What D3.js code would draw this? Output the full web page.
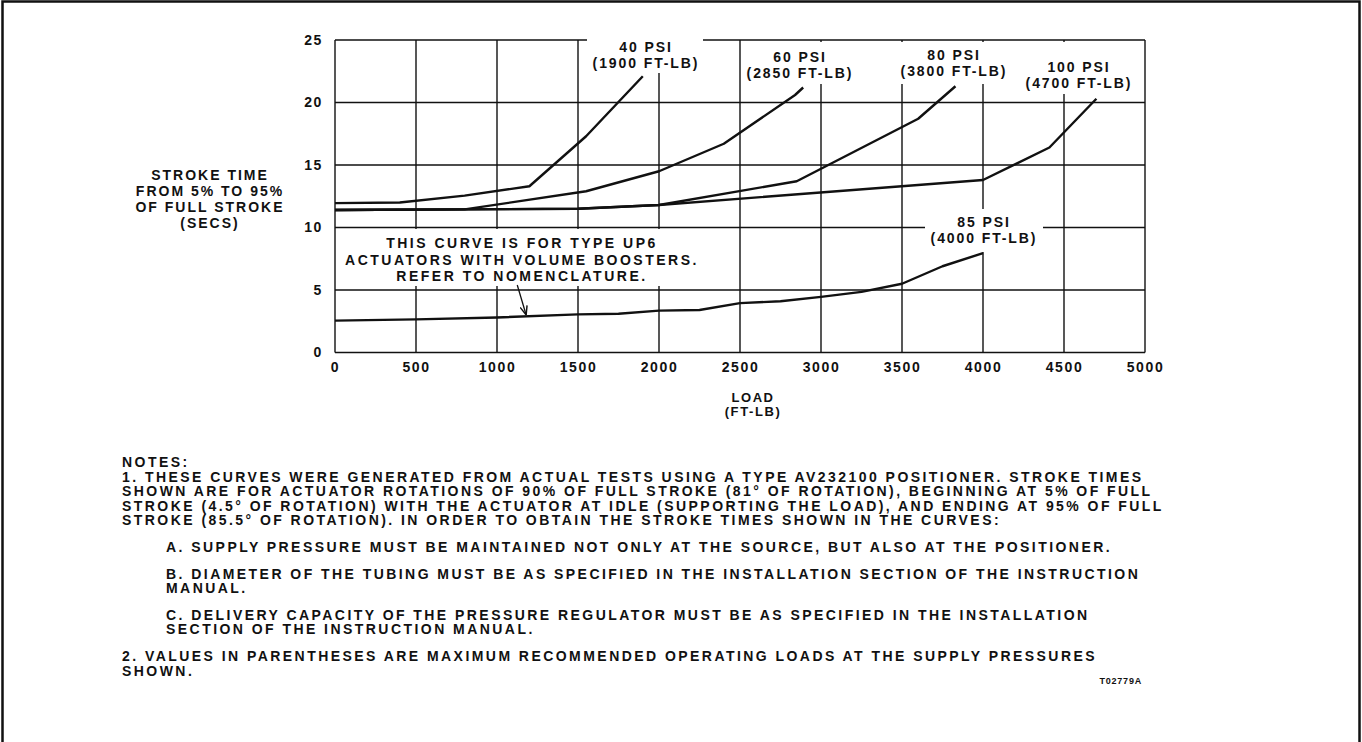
<!DOCTYPE html>
<html><head><meta charset="utf-8">
<script src="https://cdn.jsdelivr.net/npm/d3@7"></script>
<style>
body{margin:0;background:#fff}
svg text{font-family:"Liberation Sans",Arial,Helvetica,sans-serif;font-weight:bold;fill:#111}
</style></head>
<body><svg id="c" width="1362" height="742"></svg>
<script>
// ---- data ----
const xTicks = [0,500,1000,1500,2000,2500,3000,3500,4000,4500,5000];
const yTicks = [0,5,10,15,20,25];
const loads40  = [0,400,800,1200,1550,1900];
const time40   = [11.95,12.0,12.55,13.3,17.3,22.1];
const loads60  = [0,800,1550,2000,2400,2840,2890];
const time60   = [11.4,11.45,12.9,14.5,16.7,20.6,21.2];
const loads80  = [0,1500,2000,2850,3600,3830];
const time80   = [11.4,11.5,11.8,13.7,18.7,21.3];
const loads100 = [0,1500,2000,4000,4410,4700];
const time100  = [11.4,11.5,11.8,13.8,16.4,20.3];
const loads85  = [0,500,1000,1500,1750,2000,2250,2500,2750,3000,3250,3500,3750,4000];
const time85   = [2.55,2.65,2.8,3.05,3.1,3.35,3.4,3.95,4.1,4.45,4.85,5.5,6.9,7.95];
const seriesLabels = [
  ["40 PSI","(1900 FT-LB)"],["60 PSI","(2850 FT-LB)"],["80 PSI","(3800 FT-LB)"],
  ["100 PSI","(4700 FT-LB)"],["85 PSI","(4000 FT-LB)"]];
const yTitle = ["STROKE TIME","FROM 5% TO 95%","OF FULL STROKE","(SECS)"];
const xTitle = ["LOAD","(FT-LB)"];
const noteText = ["THIS CURVE IS FOR TYPE UP6","ACTUATORS WITH VOLUME BOOSTERS.","REFER TO NOMENCLATURE."];
const notes = [
 ["NOTES:",0,0],
 ["1. THESE CURVES WERE GENERATED FROM ACTUAL TESTS USING A TYPE AV232100 POSITIONER.  STROKE TIMES",0,1],
 ["SHOWN ARE FOR ACTUATOR ROTATIONS OF 90% OF FULL STROKE (81° OF ROTATION), BEGINNING AT 5% OF FULL",0,2],
 ["STROKE (4.5° OF ROTATION) WITH THE ACTUATOR AT IDLE (SUPPORTING THE LOAD), AND ENDING AT 95% OF FULL",0,3],
 ["STROKE (85.5° OF ROTATION). IN ORDER TO OBTAIN THE STROKE TIMES SHOWN IN THE CURVES:",0,4],
 ["A. SUPPLY PRESSURE MUST BE MAINTAINED NOT ONLY AT THE SOURCE, BUT ALSO AT THE POSITIONER.",1,5],
 ["B. DIAMETER OF THE TUBING MUST BE AS SPECIFIED IN THE INSTALLATION SECTION OF THE INSTRUCTION",1,6],
 ["MANUAL.",1,7],
 ["C. DELIVERY CAPACITY OF THE PRESSURE REGULATOR MUST BE AS SPECIFIED IN THE INSTALLATION",1,8],
 ["SECTION OF THE INSTRUCTION MANUAL.",1,9],
 ["2. VALUES IN PARENTHESES ARE MAXIMUM RECOMMENDED OPERATING LOADS AT THE SUPPLY PRESSURES",0,10],
 ["SHOWN.",0,11]];
const figId = "T02779A";

// ---- layout ----
const svg = d3.select("#c");
const L=335, R=1145, T=40, B=352.5;
const x = d3.scaleLinear().domain([0,5000]).range([L,R]);
const y = d3.scaleLinear().domain([0,25]).range([B,T]);
const ink = "#111";

// outer frame
svg.append("rect").attr("x",2.5).attr("y",1.5).attr("width",1357).attr("height",780)
  .attr("fill","none").attr("stroke",ink).attr("stroke-width",2.5);

// grid
const g = svg.append("g");
g.selectAll("line.v").data(xTicks).join("line").attr("class","v")
  .attr("x1",d=>x(d)).attr("x2",d=>x(d)).attr("y1",T).attr("y2",B)
  .attr("stroke",ink).attr("stroke-width",1.4);
g.selectAll("line.h").data(yTicks).join("line").attr("class","h")
  .attr("y1",d=>y(d)).attr("y2",d=>y(d)).attr("x1",L).attr("x2",R)
  .attr("stroke",ink).attr("stroke-width",1.4);

// axes (labels only)
const ax = svg.append("g").attr("transform",`translate(0,${B})`)
  .call(d3.axisBottom(x).tickValues(xTicks).tickSize(0).tickPadding(10).tickFormat(d3.format("d")));
ax.select(".domain").remove();
const ay = svg.append("g").attr("transform",`translate(${L},0)`)
  .call(d3.axisLeft(y).tickValues(yTicks).tickSize(0).tickPadding(12).tickFormat(d3.format("d")));
ay.select(".domain").remove();
svg.selectAll(".tick text").attr("font-size",14).attr("letter-spacing","1.6px")
  .style("font-family",'"Liberation Sans",Arial,sans-serif').style("font-weight","bold").attr("fill",ink);

// white masks behind labels
const masks = [[587,32,116,41],[745,42,112,42],[896,42,116,42],[1018,42,122,52],[925,209,118,43],[340,229,365,57]];
svg.selectAll("rect.m").data(masks).join("rect").attr("class","m")
  .attr("x",d=>d[0]).attr("y",d=>d[1]).attr("width",d=>d[2]).attr("height",d=>d[3]).attr("fill","#fff");

// curves
const line = d3.line().x(d=>x(d[0])).y(d=>y(d[1]));
const curves = [[loads40,time40],[loads60,time60],[loads80,time80],[loads100,time100],[loads85,time85]];
svg.selectAll("path.c").data(curves).join("path").attr("class","c")
  .attr("d",d=>line(d[0].map((v,i)=>[v,d[1][i]])))
  .attr("fill","none").attr("stroke",ink).attr("stroke-width",2.4).attr("stroke-linejoin","round");

// series labels
const labPos = [[646,47],[800,57],[954,55],[1079,67],[984,222]];
seriesLabels.forEach((lab,i)=>{
  lab.forEach((t,j)=>{
    svg.append("text").attr("x",labPos[i][0]).attr("y",labPos[i][1]+j*16).attr("dy","0.36em")
      .attr("text-anchor","middle").attr("font-size",14).attr("letter-spacing","1.9px").text(t);
  });
});

// annotation
noteText.forEach((t,j)=>{
  svg.append("text").attr("x",522).attr("y",243+j*16.5).attr("dy","0.36em")
    .attr("text-anchor","middle").attr("font-size",14).attr("letter-spacing","2.5px").text(t);
});
svg.append("defs").append("marker").attr("id","ah").attr("viewBox","0 0 10 10")
  .attr("refX",10).attr("refY",5).attr("markerWidth",9).attr("markerHeight",9)
  .attr("markerUnits","userSpaceOnUse").attr("orient","auto")
  .append("path").attr("d","M0,1 L10,5 L0,9").attr("fill","none").attr("stroke",ink).attr("stroke-width",1.6);
svg.append("line").attr("x1",x(1125)).attr("y1",y(5.4)).attr("x2",x(1180)).attr("y2",y(3.0))
  .attr("stroke",ink).attr("stroke-width",1.3).attr("marker-end","url(#ah)");

// axis titles
yTitle.forEach((t,j)=>{
  svg.append("text").attr("x",210).attr("y",175+j*16).attr("dy","0.36em")
    .attr("text-anchor","middle").attr("font-size",14).attr("letter-spacing","2px").text(t);
});
xTitle.forEach((t,j)=>{
  svg.append("text").attr("x",753).attr("y",397+j*14).attr("dy","0.36em")
    .attr("text-anchor","middle").attr("font-size",13).attr("letter-spacing","1.6px").text(t);
});

// notes
const nt = svg.append("g");
const rowY = [462,476.6,491.2,505.8,520.4,547,573.6,588.2,614.8,629.4,656,670.6];
const texts = nt.selectAll("text").data(notes).join("text")
  .attr("x",d=>d[1]?166:122).attr("y",d=>rowY[d[2]]).attr("dy","0.36em")
  .attr("font-size",14).text(d=>d[0]);
const w1 = texts.filter((d,i)=>i===1).node().getComputedTextLength();
const ls = (1024 - w1)/notes[1][0].length;
texts.attr("letter-spacing",ls+"px");
svg.append("text").attr("x",1142).attr("y",681).attr("dy","0.36em").attr("text-anchor","end")
  .attr("font-size",9).attr("letter-spacing","0.8px").text(figId);
</script></body></html>
